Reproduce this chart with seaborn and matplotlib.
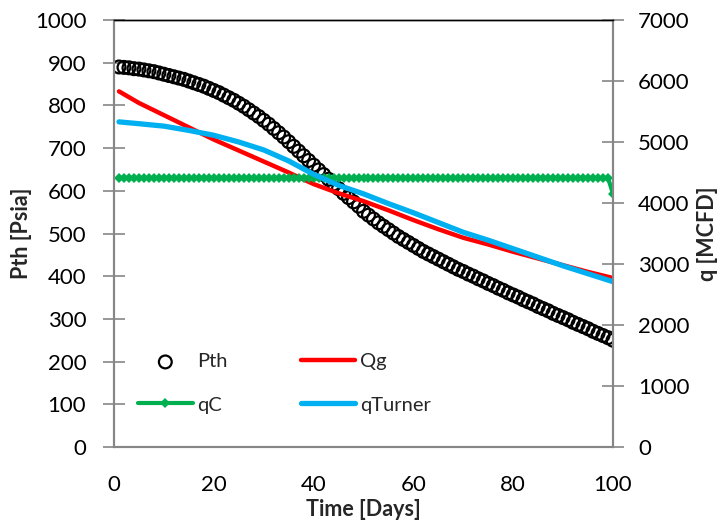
import matplotlib
matplotlib.use("Agg")
import matplotlib.pyplot as plt
import seaborn as sns
import pandas as pd

sns.set_theme(style="white")
plt.rcParams['font.family'] = ['Lato', 'DejaVu Sans']

# ---- data ----
days = list(range(1, 101))
pth = [890, 889, 888, 886, 885, 883, 881, 879, 876, 873,
       870, 867, 864, 861, 857, 853, 849, 845, 840, 835,
       830, 824, 818, 812, 805, 798, 790, 782, 774, 765,
       756, 746, 736, 726, 715, 704, 693, 682, 671, 660,
       649, 638, 627, 616, 605, 594, 584, 574, 564, 552,
       543, 534, 525, 517, 509, 501, 493, 486, 479, 472,
       465, 458, 452, 446, 440, 434, 428, 422, 416, 411,
       405, 400, 394, 389, 383, 378, 372, 367, 361, 356,
       351, 345, 340, 335, 329, 324, 319, 313, 308, 303,
       298, 292, 287, 282, 277, 271, 266, 261, 256, 250]

q_days = [1, 5, 10, 15, 20, 25, 30, 35, 40, 45, 50,
          55, 60, 65, 70, 75, 80, 85, 90, 95, 100]
qg = [5830, 5640, 5440, 5240, 5040, 4860, 4680, 4500, 4310, 4160, 4030,
      3880, 3720, 3570, 3430, 3320, 3200, 3090, 2980, 2870, 2770]
qturner = [5330, 5300, 5260, 5190, 5110, 5000, 4870, 4690, 4470, 4290, 4150,
           3990, 3840, 3680, 3520, 3390, 3250, 3110, 2970, 2840, 2710]
qc = [4410, 4410, 4410, 4410, 4410, 4410, 4410, 4410, 4410, 4410,
      4410, 4410, 4410, 4410, 4410, 4410, 4410, 4410, 4410, 4410,
      4410, 4410, 4410, 4410, 4410, 4410, 4410, 4410, 4410, 4410,
      4410, 4410, 4410, 4410, 4410, 4410, 4410, 4410, 4410, 4410,
      4410, 4410, 4410, 4410, 4410, 4410, 4410, 4410, 4410, 4410,
      4410, 4410, 4410, 4410, 4410, 4410, 4410, 4410, 4410, 4410,
      4410, 4410, 4410, 4410, 4410, 4410, 4410, 4410, 4410, 4410,
      4410, 4410, 4410, 4410, 4410, 4410, 4410, 4410, 4410, 4410,
      4410, 4410, 4410, 4410, 4410, 4410, 4410, 4410, 4410, 4410,
      4410, 4410, 4410, 4410, 4410, 4410, 4410, 4410, 4410, 4150]

x_ticks = [0, 20, 40, 60, 80, 100]
y1_ticks = [0, 100, 200, 300, 400, 500, 600, 700, 800, 900, 1000]
y2_ticks = [0, 1000, 2000, 3000, 4000, 5000, 6000, 7000]

df_p = pd.DataFrame({"day": days, "Pth": pth, "qC": qc})
df_q = pd.DataFrame({"day": q_days, "Qg": qg, "qTurner": qturner})

W, H = 725, 521
fig = plt.figure(figsize=(W / 100, H / 100), dpi=100)
ax = fig.add_axes([114/W, 1-447/H, (613-114)/W, (447-20)/H])
ax2 = ax.twinx()

sns.scatterplot(data=df_p, x="day", y="Pth", ax=ax, s=85, marker="o",
                facecolors="none", edgecolor="black", linewidth=1.6,
                label="Pth", legend=False, zorder=2)

sns.lineplot(data=df_q, x="day", y="Qg", ax=ax2, color="#FF0000",
             linewidth=3.2, label="Qg", legend=False)
sns.lineplot(data=df_p, x="day", y="qC", ax=ax2, color="#00B050",
             linewidth=3.0, marker="D", markersize=5, markeredgewidth=0,
             label="qC", legend=False)
sns.lineplot(data=df_q, x="day", y="qTurner", ax=ax2, color="#00B0F0",
             linewidth=3.8, label="qTurner", legend=False)

ax.set_xlim(0, 100)
ax.set_ylim(0, 1000)
ax2.set_ylim(0, 7000)
ax.set_xticks(x_ticks)
ax.set_yticks(y1_ticks)
ax2.set_yticks(y2_ticks)

grey = "#868686"
for a in (ax, ax2):
    for s in ("left", "right", "bottom"):
        a.spines[s].set_color(grey)
        a.spines[s].set_linewidth(1.5)
    a.spines["top"].set_color("black")
    a.spines["top"].set_linewidth(1.0)
    a.tick_params(axis="both", direction="inout", length=16, width=1.2,
                  color=grey, labelsize=16, labelcolor="black")
    a.grid(False)
ax.tick_params(axis="y", pad=12)
ax2.tick_params(axis="y", pad=10)
ax.tick_params(axis="x", direction="out", length=6, pad=14)

ax.set_xlabel("Time [Days]", fontsize=15.5, fontweight="bold", labelpad=3)
ax.set_ylabel("Pth [Psia]", fontsize=15.5, fontweight="bold", labelpad=2)
ax2.set_ylabel("q [MCFD]", fontsize=15.5, fontweight="bold", labelpad=5)

h1, l1 = ax.get_legend_handles_labels()
h2, l2 = ax2.get_legend_handles_labels()
hd = dict(zip(l1 + l2, h1 + h2))
order = ["Pth", "qC", "Qg", "qTurner"]
leg = ax2.legend([hd[k] for k in order], order, ncol=2, frameon=False,
                 loc="upper left", bbox_to_anchor=(120/W, 1-335/H),
                 bbox_transform=fig.transFigure,
                 fontsize=14.5, handlelength=2.7, columnspacing=3.6,
                 labelspacing=1.3, handletextpad=0.25, borderpad=0.4)

fig.savefig("out.png", dpi=100)
